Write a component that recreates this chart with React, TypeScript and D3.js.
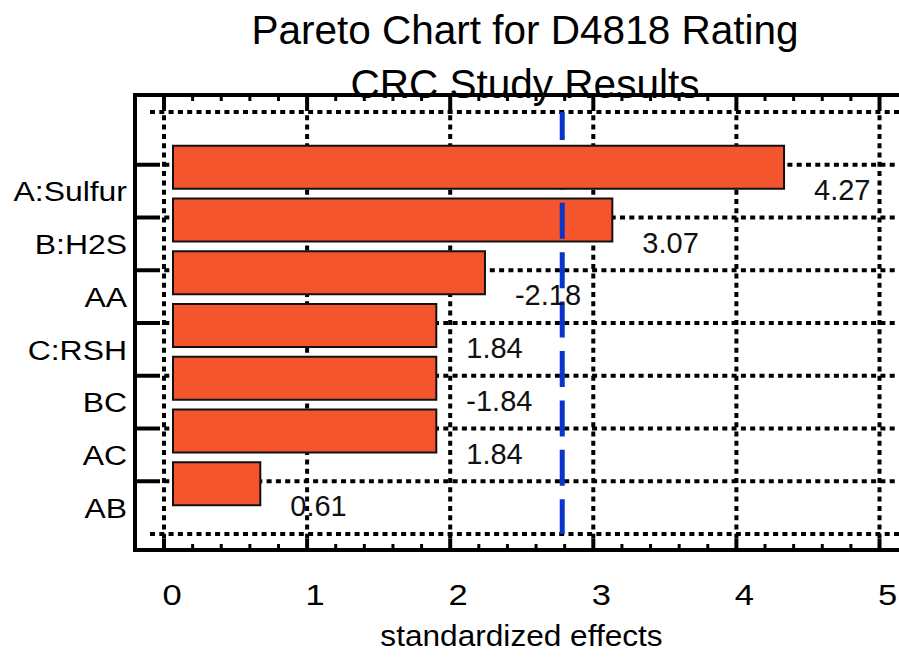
import React from "react";
import * as d3 from "d3";

const categories = ["A:Sulfur", "B:H2S", "AA", "C:RSH", "BC", "AC", "AB"];
const effects = [4.27, 3.07, 2.18, 1.84, 1.84, 1.84, 0.61];
const effectLabels = ["4.27", "3.07", "-2.18", "1.84", "-1.84", "1.84", "0.61"];
const xTicks = [0, 1, 2, 3, 4, 5];
const criticalValue = 2.72;
const titleLines = ["Pareto Chart for D4818 Rating", "CRC Study Results"];
const xTitle = "standardized effects";

const W = 899;
const H = 664;
const FONT = "'Liberation Sans', Arial, Helvetica, sans-serif";

export default function App() {
  const frameL = 135, frameT = 95, frameB = 550;
  const x = d3.scaleLinear().domain([0, 5]).range([164, 879.5]);
  const xBar = d3.scaleLinear().domain([0, 5]).range([173, 888.5]);
  const y = d3.scaleLinear().domain([0, categories.length + 1]).range([112, 534]);
  const minor = d3.range(0, 5.001, 0.2).filter((v) => Math.abs(v - Math.round(v)) > 1e-6);
  const dot = "5 4.3";
  const barH = 43;

  const bar = (v: number, i: number) => (
    <rect
      key={"b" + i}
      x={xBar(0)}
      y={y(i + 1) - 19}
      width={xBar(v) - xBar(0)}
      height={barH}
      fill="#f4552c"
      stroke="#111"
      strokeWidth={2}
    />
  );

  return (
    <svg
      width={W}
      height={H}
      style={{ position: "absolute", left: 0, top: 0, background: "#fff" }}
      fontFamily={FONT}
    >
      <rect x={0} y={0} width={W} height={H} fill="#fff" />
      {/* title */}
      {titleLines.map((t, i) => (
        <text key={t} x={525} y={44 + i * 54} fontSize={40.5} textAnchor="middle" fill="#000">
          {t}
        </text>
      ))}

      {/* horizontal dotted grid lines */}
      {d3.range(0, categories.length + 2).map((k) => {
        const yy = y(k);
        const isCat = k >= 1 && k <= categories.length;
        return (
          <g key={"h" + k}>
            {isCat && <line x1={frameL} x2={155} y1={yy} y2={yy} stroke="#000" strokeWidth={4} />}
            <line
              x1={isCat ? 155 : 150}
              x2={W}
              y1={yy}
              y2={yy}
              stroke="#000"
              strokeWidth={4}
              strokeDasharray={dot}
            />
          </g>
        );
      })}

      {/* vertical dotted grid + major ticks */}
      {xTicks.map((v) => (
        <g key={"v" + v}>
          <line x1={x(v)} x2={x(v)} y1={frameT} y2={106} stroke="#000" strokeWidth={4} />
          <line x1={x(v)} x2={x(v)} y1={frameB} y2={539} stroke="#000" strokeWidth={4} />
          <line
            x1={x(v)}
            x2={x(v)}
            y1={106}
            y2={539}
            stroke="#000"
            strokeWidth={4}
            strokeDasharray={dot}
          />
        </g>
      ))}

      {/* minor ticks */}
      {minor.map((v) => (
        <g key={"m" + v}>
          <line x1={x(v)} x2={x(v)} y1={frameT} y2={frameT + 6} stroke="#000" strokeWidth={3} />
          <line x1={x(v)} x2={x(v)} y1={frameB} y2={frameB - 6} stroke="#000" strokeWidth={3} />
        </g>
      ))}

      {/* frame */}
      <line x1={frameL} x2={W} y1={frameT} y2={frameT} stroke="#000" strokeWidth={4} />
      <line x1={frameL} x2={W} y1={frameB} y2={frameB} stroke="#000" strokeWidth={4} />
      <line x1={frameL} x2={frameL} y1={frameT - 2} y2={frameB + 2} stroke="#000" strokeWidth={4} />

      {/* bars (all but first), reference line, first bar */}
      {effects.map((v, i) => (i > 0 ? bar(v, i) : null))}
      <line
        x1={xBar(criticalValue)}
        x2={xBar(criticalValue)}
        y1={y(0)}
        y2={y(categories.length + 1)}
        stroke="#0a35c8"
        strokeWidth={5}
        strokeDasharray="36 13.4"
        strokeDashoffset={8}
      />
      {bar(effects[0], 0)}

      {/* value labels */}
      {effects.map((v, i) => (
        <text key={"l" + i} x={xBar(v) + 30} y={y(i + 1) + 35} fontSize={29} fill="#111">
          {effectLabels[i]}
        </text>
      ))}

      {/* category labels */}
      {categories.map((c, i) => (
        <text
          key={c}
          transform={`translate(127,${y(i + 1) + 36.5}) scale(1.14,1)`}
          fontSize={28}
          textAnchor="end"
          fill="#000"
        >
          {c}
        </text>
      ))}

      {/* x tick labels */}
      {xTicks.map((v) => (
        <text
          key={"t" + v}
          transform={`translate(${x(v) + 8},605) scale(1.15,1)`}
          fontSize={30}
          textAnchor="middle"
          fill="#000"
        >
          {v}
        </text>
      ))}

      {/* x title */}
      <text
        transform={`translate(521.5,646) scale(1.09,1)`}
        fontSize={29}
        textAnchor="middle"
        fill="#000"
      >
        {xTitle}
      </text>
    </svg>
  );
}
